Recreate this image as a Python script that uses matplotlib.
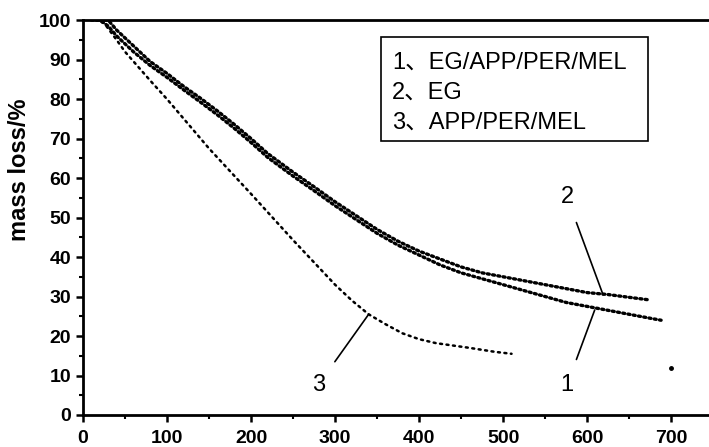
import matplotlib.pyplot as plt
from matplotlib.patches import Rectangle
from matplotlib.ticker import MultipleLocator

plt.rcParams['font.family'] = ['Liberation Sans', 'Noto Sans CJK SC']

# curve 1: EG/APP/PER/MEL
t1 = [10, 20, 30, 40, 60, 80, 100, 120, 140, 160, 180, 200, 220, 250, 275, 300, 325, 350,
      375, 400, 425, 450, 475, 500, 525, 550, 575, 600, 625, 650, 675, 688]
m1 = [100, 100, 98.5, 96, 92, 88.5, 85.5, 82.3, 79.2, 76, 72.6, 69, 65.2, 60.5, 56.8, 53, 49.5, 46,
      43, 40.5, 38, 36, 34.5, 33, 31.5, 30, 28.5, 27.5, 26.5, 25.5, 24.5, 24]
# curve 2: EG
t2 = [20, 30, 40, 60, 80, 100, 120, 140, 160, 180, 200, 220, 250, 275, 300, 325, 350,
      375, 400, 425, 450, 475, 500, 525, 550, 575, 600, 625, 650, 672]
m2 = [100, 100, 97.5, 93.5, 89.5, 86.5, 83.2, 80.2, 77, 73.6, 70, 66.2, 61.5, 57.8, 54, 50.5, 47,
      44, 41.5, 39.5, 37.5, 36, 35, 34, 33, 32, 31, 30.5, 29.8, 29.2]
# curve 3: APP/PER/MEL
t3 = [15, 25, 40, 50, 80, 100, 150, 200, 250, 300, 320, 340, 360, 380, 400, 420, 460, 490, 510]
m3 = [100, 99.3, 95, 92, 84.7, 80, 67.5, 56, 44.3, 33, 29, 25.5, 23, 20.7, 19.2, 18.2, 17, 16, 15.5]
stray_t = [700]
stray_m = [12]

legend_lines = ['1、EG/APP/PER/MEL', '2、EG', '3、APP/PER/MEL']
legend_y = [89.1, 81.5, 74.1]

fig = plt.figure(figsize=(7.09, 4.47), dpi=100)
ax = fig.add_axes([0.117, 0.0716, 0.883, 0.8834])

ax.plot(t1, m1, color='black', lw=2.4, ls=(0, (0.6, 1.0)), dash_capstyle='round')
ax.plot(t2, m2, color='black', lw=2.4, ls=(0, (0.6, 1.0)), dash_capstyle='round')
ax.plot(t3, m3, color='black', lw=1.8, ls=(0, (0.8, 1.8)), dash_capstyle='round')
ax.plot(stray_t, stray_m, 'o', color='black', ms=2.5)

ax.set_xlim(0, 745)
ax.set_ylim(0, 100)
ax.spines['right'].set_visible(False)
for s in ['left', 'bottom', 'top']:
    ax.spines[s].set_linewidth(2)
ax.xaxis.set_major_locator(MultipleLocator(100))
ax.xaxis.set_minor_locator(MultipleLocator(50))
ax.yaxis.set_major_locator(MultipleLocator(10))
ax.yaxis.set_minor_locator(MultipleLocator(5))
ax.tick_params(which='major', length=5, width=1.8, direction='out')
ax.tick_params(which='minor', length=3, width=1.5, direction='out')
ax.tick_params(axis='both', labelsize=14)
ax.tick_params(axis='x', pad=5.5)
for lab in ax.get_xticklabels() + ax.get_yticklabels():
    lab.set_fontweight('bold')

ax.set_ylabel('mass loss/%', fontsize=17, fontweight='bold')
ax.yaxis.set_label_coords(-0.083, 0.62)

# legend box drawn by hand
ax.add_patch(Rectangle((355, 69.3), 317, 26.4, fill=False, ec='black', lw=1.2))
for txt, yy in zip(legend_lines, legend_y):
    ax.text(368, yy, txt, fontsize=17, va='center', ha='left')

# curve labels with leader lines
ax.annotate('2', xy=(619, 30.4), xytext=(576, 55.2), fontsize=17, ha='center', va='center',
            arrowprops=dict(arrowstyle='-', color='black', lw=1.2, shrinkA=9, shrinkB=0))
ax.annotate('1', xy=(609, 26.6), xytext=(576, 7.6), fontsize=17, ha='center', va='center',
            arrowprops=dict(arrowstyle='-', color='black', lw=1.2, shrinkA=9, shrinkB=0))
ax.annotate('3', xy=(340, 25.5), xytext=(280, 7.6), fontsize=17, ha='center', va='center',
            arrowprops=dict(arrowstyle='-', color='black', lw=1.2, shrinkA=9, shrinkB=0))

fig.savefig('out.png', dpi=100)
